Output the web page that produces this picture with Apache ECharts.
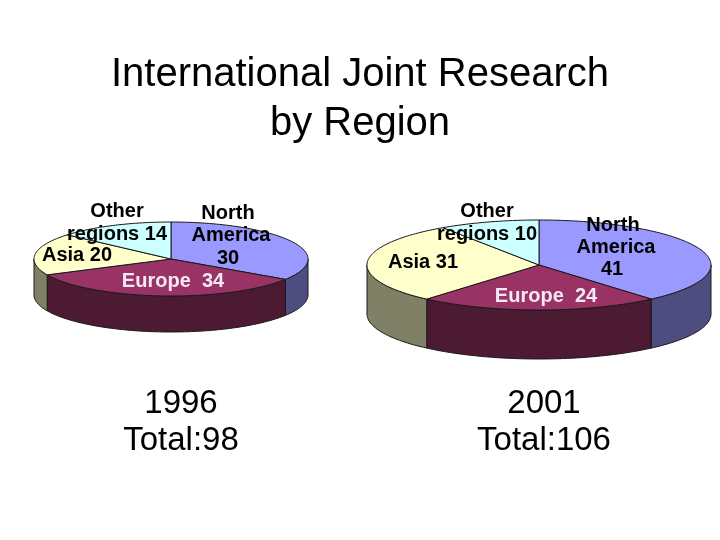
<!DOCTYPE html>
<html><head><meta charset="utf-8">
<style>html,body{margin:0;padding:0;background:#fff}#c{width:720px;height:540px}</style>
<script src="https://cdn.jsdelivr.net/npm/echarts@6/dist/echarts.min.js"></script>
</head><body><div id="c"></div>
<script>
const categories = ['North America', 'Europe', 'Asia', 'Other regions'];
const values1996 = [30, 34, 20, 14];
const values2001 = [41, 24, 31, 10];
// Wedge sizes as drawn: the 1996 picture's wedges differ slightly from their printed labels.
const drawn1996 = [33.6, 33, 18, 13.4];
const drawn2001 = [41, 24, 31, 10];
const topColors = ['#9999ff', '#993366', '#ffffcc', '#ccffff'];
const wallColors = ['#4d4d80', '#4d1a33', '#808066', '#668080'];
const edge = '#1a1a1a';

const pies = [
  {cx: 171, cy: 259, rx: 137, ry: 37, depth: 36, data: drawn1996},
  {cx: 539, cy: 265, rx: 172, ry: 45, depth: 49, data: drawn2001}
];

function arc(p, a0, a1, dy) {
  const pts = [], n = Math.max(2, Math.ceil(Math.abs(a1 - a0) / 1.5));
  for (let i = 0; i <= n; i++) {
    const a = (a0 + (a1 - a0) * i / n) * Math.PI / 180;
    pts.push([p.cx + p.rx * Math.sin(a), p.cy - p.ry * Math.cos(a) + dy]);
  }
  return pts;
}
function span(p, idx) {
  const sum = p.data.reduce((s, v) => s + v, 0);
  let acc = 0;
  for (let i = 0; i < idx; i++) acc += p.data[i];
  return [acc / sum * 360, (acc + p.data[idx]) / sum * 360];
}
function pieSeries(p, kind) {
  return {
    type: 'custom', coordinateSystem: 'none', silent: true, animation: false,
    z: kind === 'wall' ? 2 : 3,
    data: p.data.map((v, i) => ({value: v, name: categories[i]})),
    renderItem(params) {
      const i = params.dataIndex, [a0, a1] = span(p, i);
      if (kind === 'top') {
        return {type: 'polygon', shape: {points: [[p.cx, p.cy]].concat(arc(p, a0, a1, 0))},
          style: {fill: topColors[i], stroke: edge, lineWidth: 1}};
      }
      const s = Math.max(a0, 90), e = Math.min(a1, 270);
      if (e <= s) return null;
      return {type: 'polygon',
        shape: {points: arc(p, s, e, 0).concat(arc(p, e, s, p.depth))},
        style: {fill: wallColors[i], stroke: edge, lineWidth: 1}};
    }
  };
}
const head = '400 40px "Liberation Sans", Arial, sans-serif';
const big = '400 33px "Liberation Sans", Arial, sans-serif';
const small = '700 20px "Liberation Sans", Arial, sans-serif';
function txt(text, x, y, font, fill) {
  return {type: 'text', x, y, z: 10, silent: true,
    style: {text, font, fill: fill || '#000', align: 'center', verticalAlign: 'middle'}};
}
const graphicEls = [
  txt('International Joint Research', 360, 75, head),
  txt('by Region', 360, 124, head),
  txt('1996', 181, 404, big), txt('Total:' + values1996.reduce((a, b) => a + b, 0), 181, 441, big),
  txt('2001', 544, 404, big), txt('Total:' + values2001.reduce((a, b) => a + b, 0), 544, 441, big),
  txt('Other', 117, 211, small), txt('regions ' + values1996[3], 117, 234, small),
  txt('Asia ' + values1996[2], 77, 255, small),
  txt('North', 228, 213, small), txt('America', 231, 235, small), txt(String(values1996[0]), 228, 258, small),
  txt('Europe  ' + values1996[1], 173, 281, small, '#f6e8f4'),
  txt('Other', 487, 211, small), txt('regions ' + values2001[3], 487, 234, small),
  txt('Asia ' + values2001[2], 423, 262, small),
  txt('North', 613, 225, small), txt('America', 616, 247, small), txt(String(values2001[0]), 612, 269, small),
  txt('Europe  ' + values2001[1], 546, 296, small, '#f6e8f4')
];
const chart = echarts.init(document.getElementById('c'), null, {renderer: 'canvas'});
chart.setOption({
  backgroundColor: '#fff',
  animation: false,
  series: pies.flatMap(p => [pieSeries(p, 'wall'), pieSeries(p, 'top')]),
  graphic: {elements: graphicEls}
});
</script></body></html>
